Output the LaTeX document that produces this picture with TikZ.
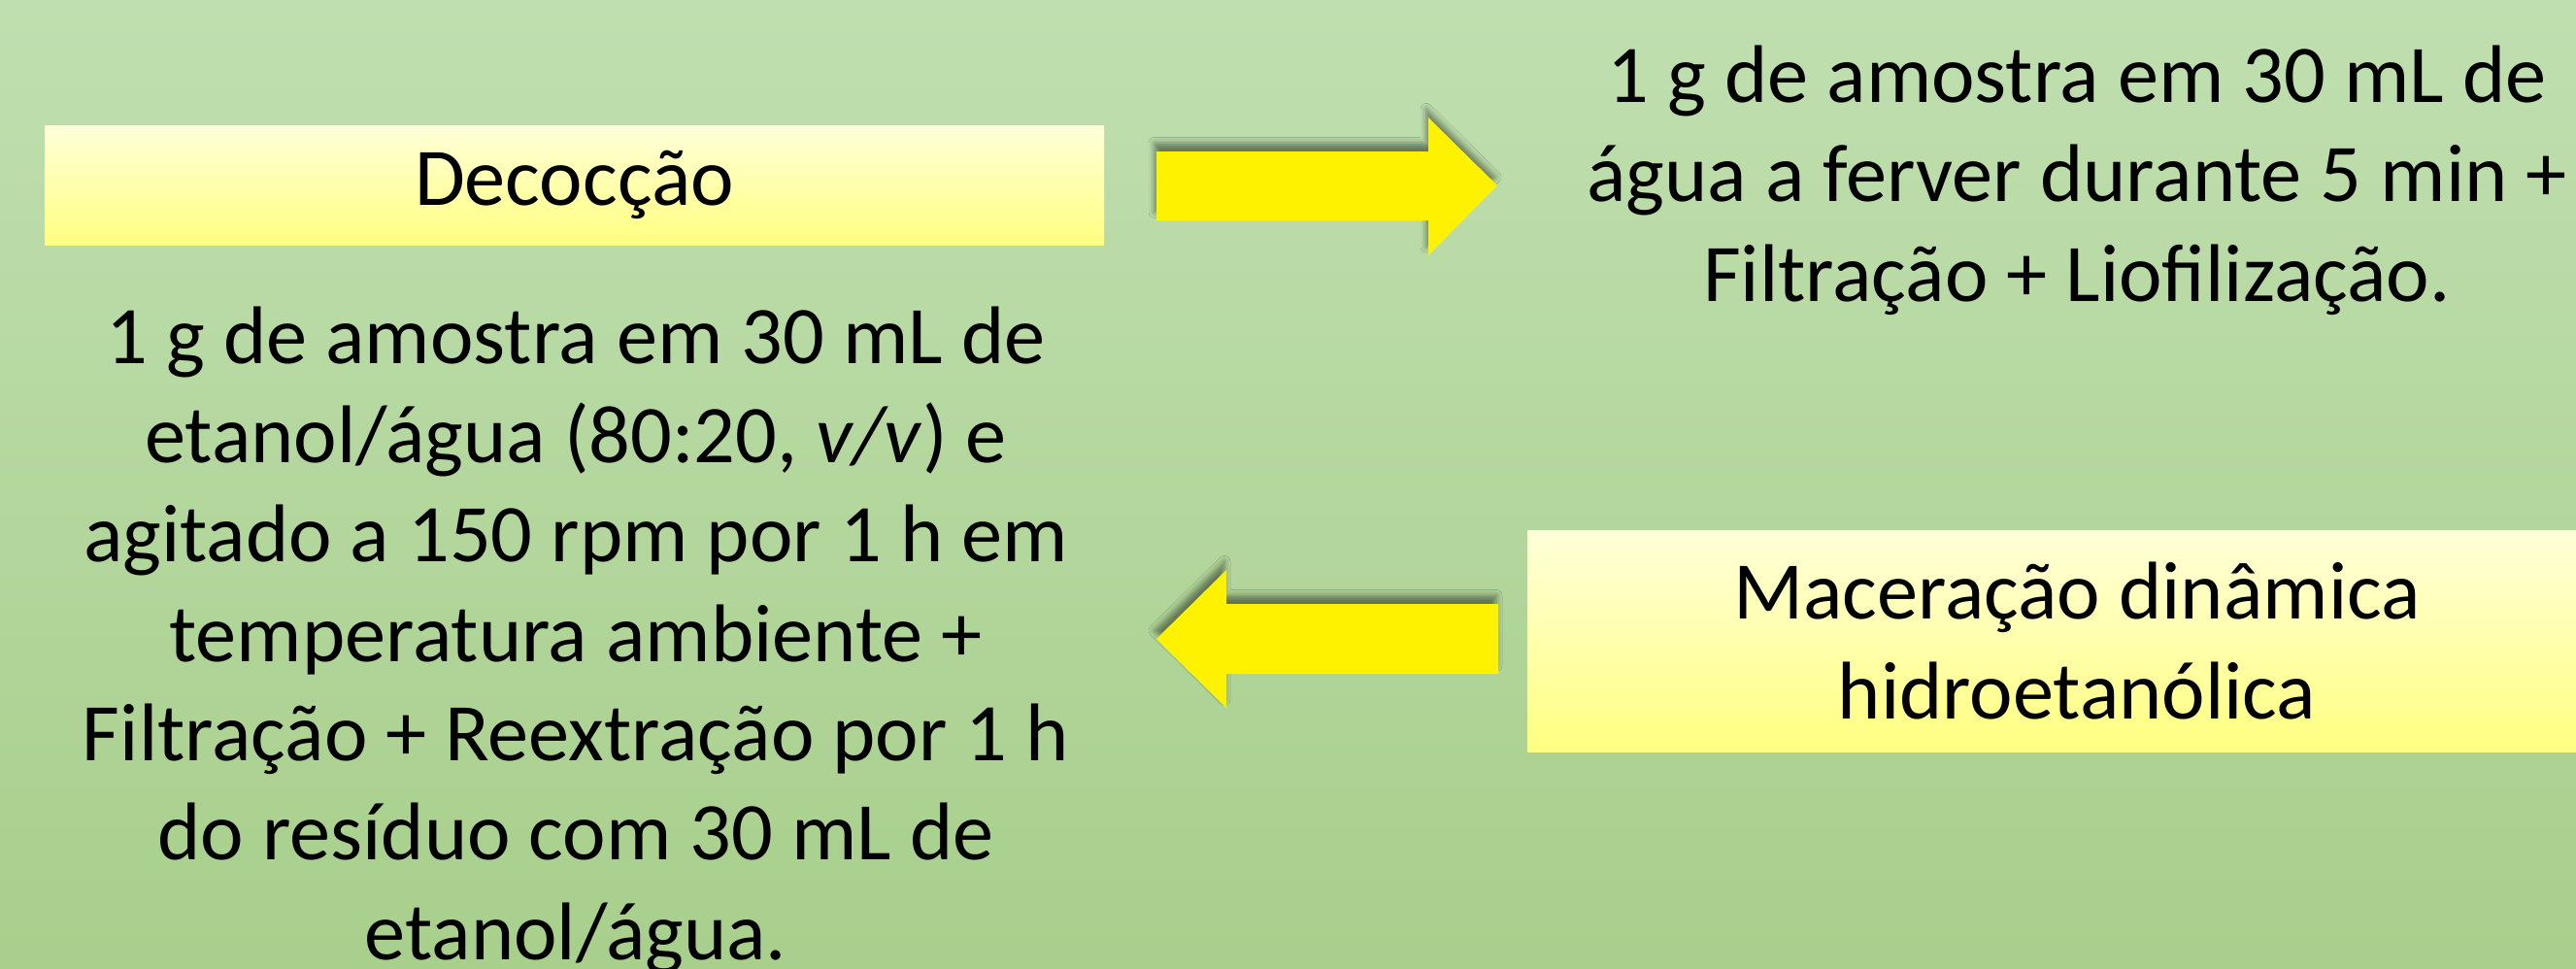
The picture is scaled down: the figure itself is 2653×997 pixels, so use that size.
\documentclass[tikz,border=0pt]{standalone}
\usepackage{fontspec}
\setmainfont{Carlito}
\usetikzlibrary{shadows.blur}
\definecolor{bgtop}{HTML}{C0DFB0}
\definecolor{bgbot}{HTML}{A8CF8C}
\definecolor{boxtop}{HTML}{FFFFD9}
\definecolor{boxbot}{HTML}{FFFF80}
\tikzset{
  txt/.style={font=\fontsize{25.3}{30.7}\selectfont, align=center, inner sep=0pt},
  titlebox/.style={txt, top color=boxtop, bottom color=boxbot, draw=none},
  blockarrow/.style={fill=yellow, draw=none,
    blur shadow={shadow xshift=-0.6pt, shadow yshift=2.6pt, shadow blur radius=1.8pt, shadow opacity=45}},
}
\begin{document}
\begin{tikzpicture}[x=0.3pt,y=-0.3pt]
\useasboundingbox (0,0) rectangle (2653,997);
\begin{scope}
\clip (0,0) rectangle (2653,997);
\shade[top color=bgtop, bottom color=bgbot] (0,0) rectangle (2653,997);
\node[titlebox, minimum width=327.3pt, minimum height=36.9pt] (dec) at (591.5,190.5) {Decocção};
\node[titlebox, minimum width=339.6pt, minimum height=68.4pt] (mac) at (2139,660) {Maceração dinâmica\\hidroetanólica};
\node[txt, anchor=base] (lefttxt) at (593,988) {1 g de amostra em 30 mL de\\etanol/água (80:20, \textit{v/v}) e\\agitado a 150 rpm por 1 h em\\temperatura ambiente +\\Filtração + Reextração por 1 h\\do resíduo com 30 mL de\\etanol/água.};
\node[txt, anchor=base] (righttxt) at (2139,310) {1 g de amostra em 30 mL de\\água a ferver durante 5 min +\\Filtração + Liofilização.};
\coordinate (ratail) at (1191,191);
\coordinate (ratip) at (1542,191);
\fill[blockarrow] (ratail) ++(0,-35) -- (1471,156) -- (1471,121) -- (ratip) -- (1471,263) -- (1471,227) -- (1191,227) -- cycle;
\coordinate (latail) at (1543,658);
\coordinate (latip) at (1191,658);
\fill[blockarrow] (latail) ++(0,-36) -- (1263,622) -- (1263,587) -- (latip) -- (1263,729) -- (1263,694) -- (1543,694) -- cycle;
\end{scope}
\end{tikzpicture}
\end{document}
